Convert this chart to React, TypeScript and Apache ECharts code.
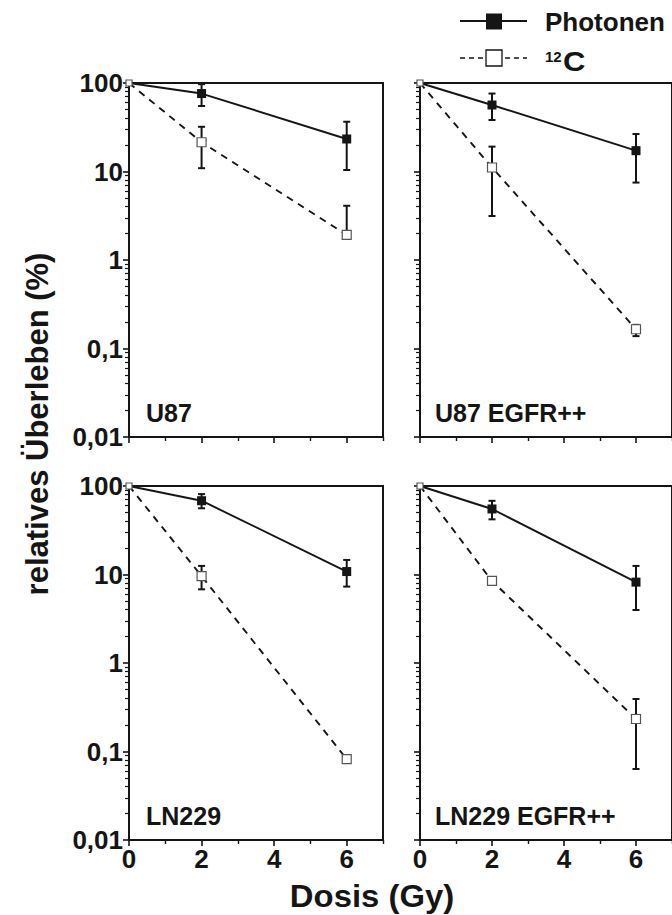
import React, { useEffect, useRef } from "react";
import * as echarts from "echarts";

// ---- data ----
const doses = [0, 2, 6];
const panelNames = ["U87", "U87 EGFR++", "LN229", "LN229 EGFR++"];

const photonU87 = [100, 76, 23.3];
const photonU87Low = [100, 55, 10.4];
const photonU87High = [100, 97, 36.5];
const carbonU87 = [100, 21.4, 1.92];
const carbonU87Low = [100, 10.9, 1.85];
const carbonU87High = [100, 32, 4.1];

const photonU87E = [100, 56.4, 17.2];
const photonU87ELow = [100, 38.2, 7.5];
const photonU87EHigh = [100, 76, 26.5];
const carbonU87E = [100, 11.1, 0.165];
const carbonU87ELow = [100, 3.14, 0.138];
const carbonU87EHigh = [100, 19.1, 0.185];

const photonLN = [100, 68.2, 10.8];
const photonLNLow = [100, 56, 7.3];
const photonLNHigh = [100, 81, 14.6];
const carbonLN = [100, 9.6, 0.082];
const carbonLNLow = [100, 6.8, 0.082];
const carbonLNHigh = [100, 12.5, 0.082];

const photonLNE = [100, 55, 8.2];
const photonLNELow = [100, 42, 3.97];
const photonLNEHigh = [100, 68, 12.5];
const carbonLNE = [100, 8.45, 0.233];
const carbonLNELow = [100, 7.9, 0.0634];
const carbonLNEHigh = [100, 9.0, 0.392];

const yTickValues = [0.01, 0.1, 1, 10, 100];
const yTickLabels = ["0,01", "0,1", "1", "10", "100"];
const yMinorValues = [
  0.02, 0.03, 0.04, 0.05, 0.06, 0.07, 0.08, 0.09,
  0.2, 0.3, 0.4, 0.5, 0.6, 0.7, 0.8, 0.9,
  2, 3, 4, 5, 6, 7, 8, 9,
  20, 30, 40, 50, 60, 70, 80, 90,
];
const xTickValues = [0, 2, 4, 6];
const xTickLabels = ["0", "2", "4", "6"];
const xMinorValues = [1, 3, 5, 7];

const legendPhoton = "Photonen";
const legendCarbonSup = "12";
const legendCarbon = "C";
const yTitle = "relatives Überleben (%)";
const xTitle = "Dosis (Gy)";

const panels = [
  { p: photonU87, pl: photonU87Low, ph: photonU87High, c: carbonU87, cl: carbonU87Low, ch: carbonU87High },
  { p: photonU87E, pl: photonU87ELow, ph: photonU87EHigh, c: carbonU87E, cl: carbonU87ELow, ch: carbonU87EHigh },
  { p: photonLN, pl: photonLNLow, ph: photonLNHigh, c: carbonLN, cl: carbonLNLow, ch: carbonLNHigh },
  { p: photonLNE, pl: photonLNELow, ph: photonLNEHigh, c: carbonLNE, cl: carbonLNELow, ch: carbonLNEHigh },
];

const FONT = '"Liberation Sans", Arial, Helvetica, sans-serif';
const INK = "#151515";

export default function App() {
  const ref = useRef<HTMLDivElement>(null);

  useEffect(() => {
    document.body.style.margin = "0";
    if (!ref.current) return;
    const chart = echarts.init(ref.current, null, { renderer: "svg" });

    const grids = [
      { left: 129, top: 83, width: 254, height: 354 },
      { left: 420, top: 83, width: 254, height: 354 },
      { left: 129, top: 486, width: 254, height: 354 },
      { left: 420, top: 486, width: 254, height: 354 },
    ].map((g) => ({ ...g, show: true, borderColor: INK, borderWidth: 2, backgroundColor: "transparent" }));

    const xAxes: any[] = [];
    const yAxes: any[] = [];
    const series: any[] = [];

    const yFormatter = (v: number) => {
      const e = Math.round(Math.log10(v));
      const idx = yTickValues.findIndex((t) => Math.round(Math.log10(t)) === e);
      return idx >= 0 ? yTickLabels[idx] : "";
    };
    const xFormatter = (v: number) => {
      const idx = xTickValues.findIndex((t) => Math.abs(t - v) < 1e-6);
      return idx >= 0 ? xTickLabels[idx] : "";
    };

    const labelStyle = { fontSize: 26, fontWeight: "bold", fontFamily: FONT, color: INK };

    grids.forEach((_, i) => {
      const showX = i >= 2;
      const showY = i % 2 === 0;
      xAxes.push({
        type: "value", gridIndex: i, min: 0, max: 7, position: "bottom",
        axisLine: { show: true, onZero: false, lineStyle: { color: INK, width: 2 } },
        axisTick: { show: true, length: 6, lineStyle: { color: INK, width: 1.6 }, customValues: xTickValues },
        axisLabel: { show: showX, customValues: xTickValues, formatter: xFormatter, margin: 6, ...labelStyle },
        splitLine: { show: false },
      });
      xAxes.push({
        type: "value", gridIndex: i, min: 0, max: 7, position: "bottom",
        axisLine: { show: false, onZero: false },
        axisTick: { show: true, length: 4, lineStyle: { color: INK, width: 1.4 }, customValues: xMinorValues },
        axisLabel: { show: false },
        splitLine: { show: false },
      });
      yAxes.push({
        type: "log", logBase: 10, gridIndex: i, min: 0.01, max: 100, position: "left",
        axisLine: { show: true, onZero: false, lineStyle: { color: INK, width: 2 } },
        axisTick: { show: true, length: 6, lineStyle: { color: INK, width: 1.6 }, customValues: yTickValues },
        axisLabel: { show: showY, customValues: yTickValues, formatter: yFormatter, margin: 6, ...labelStyle },
        splitLine: { show: false },
      });
      yAxes.push({
        type: "log", logBase: 10, gridIndex: i, min: 0.01, max: 100, position: "left",
        axisLine: { show: false, onZero: false },
        axisTick: { show: true, length: 4, lineStyle: { color: INK, width: 1.2 }, customValues: yMinorValues },
        axisLabel: { show: false },
        splitLine: { show: false },
      });

      const xi = i * 2;
      const yi = i * 2;
      const pd = panels[i];

      const errData: number[][] = [];
      doses.forEach((d, k) => {
        if (d === 0) return;
        errData.push([d, pd.pl[k], pd.ph[k]]);
        errData.push([d, pd.cl[k], pd.ch[k]]);
      });

      series.push({
        type: "custom",
        xAxisIndex: xi,
        yAxisIndex: yi,
        z: 1,
        silent: true,
        encode: { x: 0, y: [1, 2] },
        data: errData,
        renderItem: (params: any, api: any) => {
          const x = api.value(0);
          const lo = api.value(1);
          const hi = api.value(2);
          const a = api.coord([x, lo]);
          const b = api.coord([x, hi]);
          const cw = 3.5;
          const st = { stroke: INK, lineWidth: 2 };
          return {
            type: "group",
            children: [
              { type: "line", shape: { x1: a[0], y1: a[1], x2: b[0], y2: b[1] }, style: st },
              { type: "line", shape: { x1: a[0] - cw, y1: a[1], x2: a[0] + cw, y2: a[1] }, style: st },
              { type: "line", shape: { x1: b[0] - cw, y1: b[1], x2: b[0] + cw, y2: b[1] }, style: st },
            ],
          };
        },
      });

      series.push({
        type: "line",
        name: legendPhoton,
        xAxisIndex: xi,
        yAxisIndex: yi,
        z: 3,
        symbol: "rect",
        symbolSize: 9,
        clip: false,
        data: doses.map((d, k) => ({ value: [d, pd.p[k]], symbolSize: d === 0 ? 0 : 9 })),
        lineStyle: { color: INK, width: 1.9 },
        itemStyle: { color: INK },
      });
      series.push({
        type: "line",
        name: "12C",
        xAxisIndex: xi,
        yAxisIndex: yi,
        z: 4,
        symbol: "rect",
        symbolSize: 9,
        clip: false,
        data: doses.map((d, k) => ({ value: [d, pd.c[k]], symbolSize: d === 0 ? 6 : 9 })),
        lineStyle: { color: INK, width: 1.9, type: [7, 6] },
        itemStyle: { color: "#ffffff", borderColor: "#555", borderWidth: 1.2 },
      });
    });

    const panelLabelPos = [
      [146, 413],
      [435, 413],
      [146, 816],
      [435, 816],
    ];

    const graphic: any[] = [
      { type: "line", shape: { x1: 460, y1: 21, x2: 527, y2: 21 }, style: { stroke: INK, lineWidth: 1.8 } },
      { type: "rect", shape: { x: 486, y: 13.5, width: 16, height: 16 }, style: { fill: INK } },
      {
        type: "text", x: 545, y: 22,
        style: { text: legendPhoton, x: 0, y: 0, fontSize: 26, fontWeight: "bold", fontFamily: FONT, fill: INK, textAlign: "left", textVerticalAlign: "middle" },
      },
      { type: "line", shape: { x1: 460, y1: 58, x2: 527, y2: 58 }, style: { stroke: INK, lineWidth: 1.5, lineDash: [5, 4] } },
      { type: "rect", shape: { x: 486, y: 50, width: 16, height: 16 }, style: { fill: "#fff", stroke: INK, lineWidth: 1.3 } },
      {
        type: "text", x: 545, y: 56,
        style: { text: legendCarbonSup, x: 0, y: 0, fontSize: 15, fontWeight: "bold", fontFamily: FONT, fill: INK, textAlign: "left", textVerticalAlign: "middle" },
      },
      {
        type: "text", x: 563, y: 62, scaleX: 1.15,
        style: { text: legendCarbon, x: 0, y: 0, fontSize: 27, fontWeight: "bold", fontFamily: FONT, fill: INK, textAlign: "left", textVerticalAlign: "middle" },
      },
      {
        type: "text", x: 37, y: 424, rotation: Math.PI / 2,
        style: { text: yTitle, x: 0, y: 0, fontSize: 31, fontWeight: "bold", fontFamily: FONT, fill: INK, textAlign: "center", textVerticalAlign: "middle" },
      },
      {
        type: "text", x: 372, y: 896, scaleX: 1.06,
        style: { text: xTitle, x: 0, y: 0, fontSize: 31, fontWeight: "bold", fontFamily: FONT, fill: INK, textAlign: "center", textVerticalAlign: "middle" },
      },
      ...panelNames.map((n, i) => ({
        type: "text", x: panelLabelPos[i][0], y: panelLabelPos[i][1],
        style: { text: n, x: 0, y: 0, fontSize: 25, fontWeight: "bold", fontFamily: FONT, fill: INK, textAlign: "left", textVerticalAlign: "middle" },
      })),
    ];

    chart.setOption({
      animation: false,
      backgroundColor: "#ffffff",
      grid: grids,
      xAxis: xAxes,
      yAxis: yAxes,
      series,
      graphic,
    });

    return () => chart.dispose();
  }, []);

  return <div ref={ref} style={{ position: "absolute", left: 0, top: 0, width: 672, height: 915 }} />;
}
